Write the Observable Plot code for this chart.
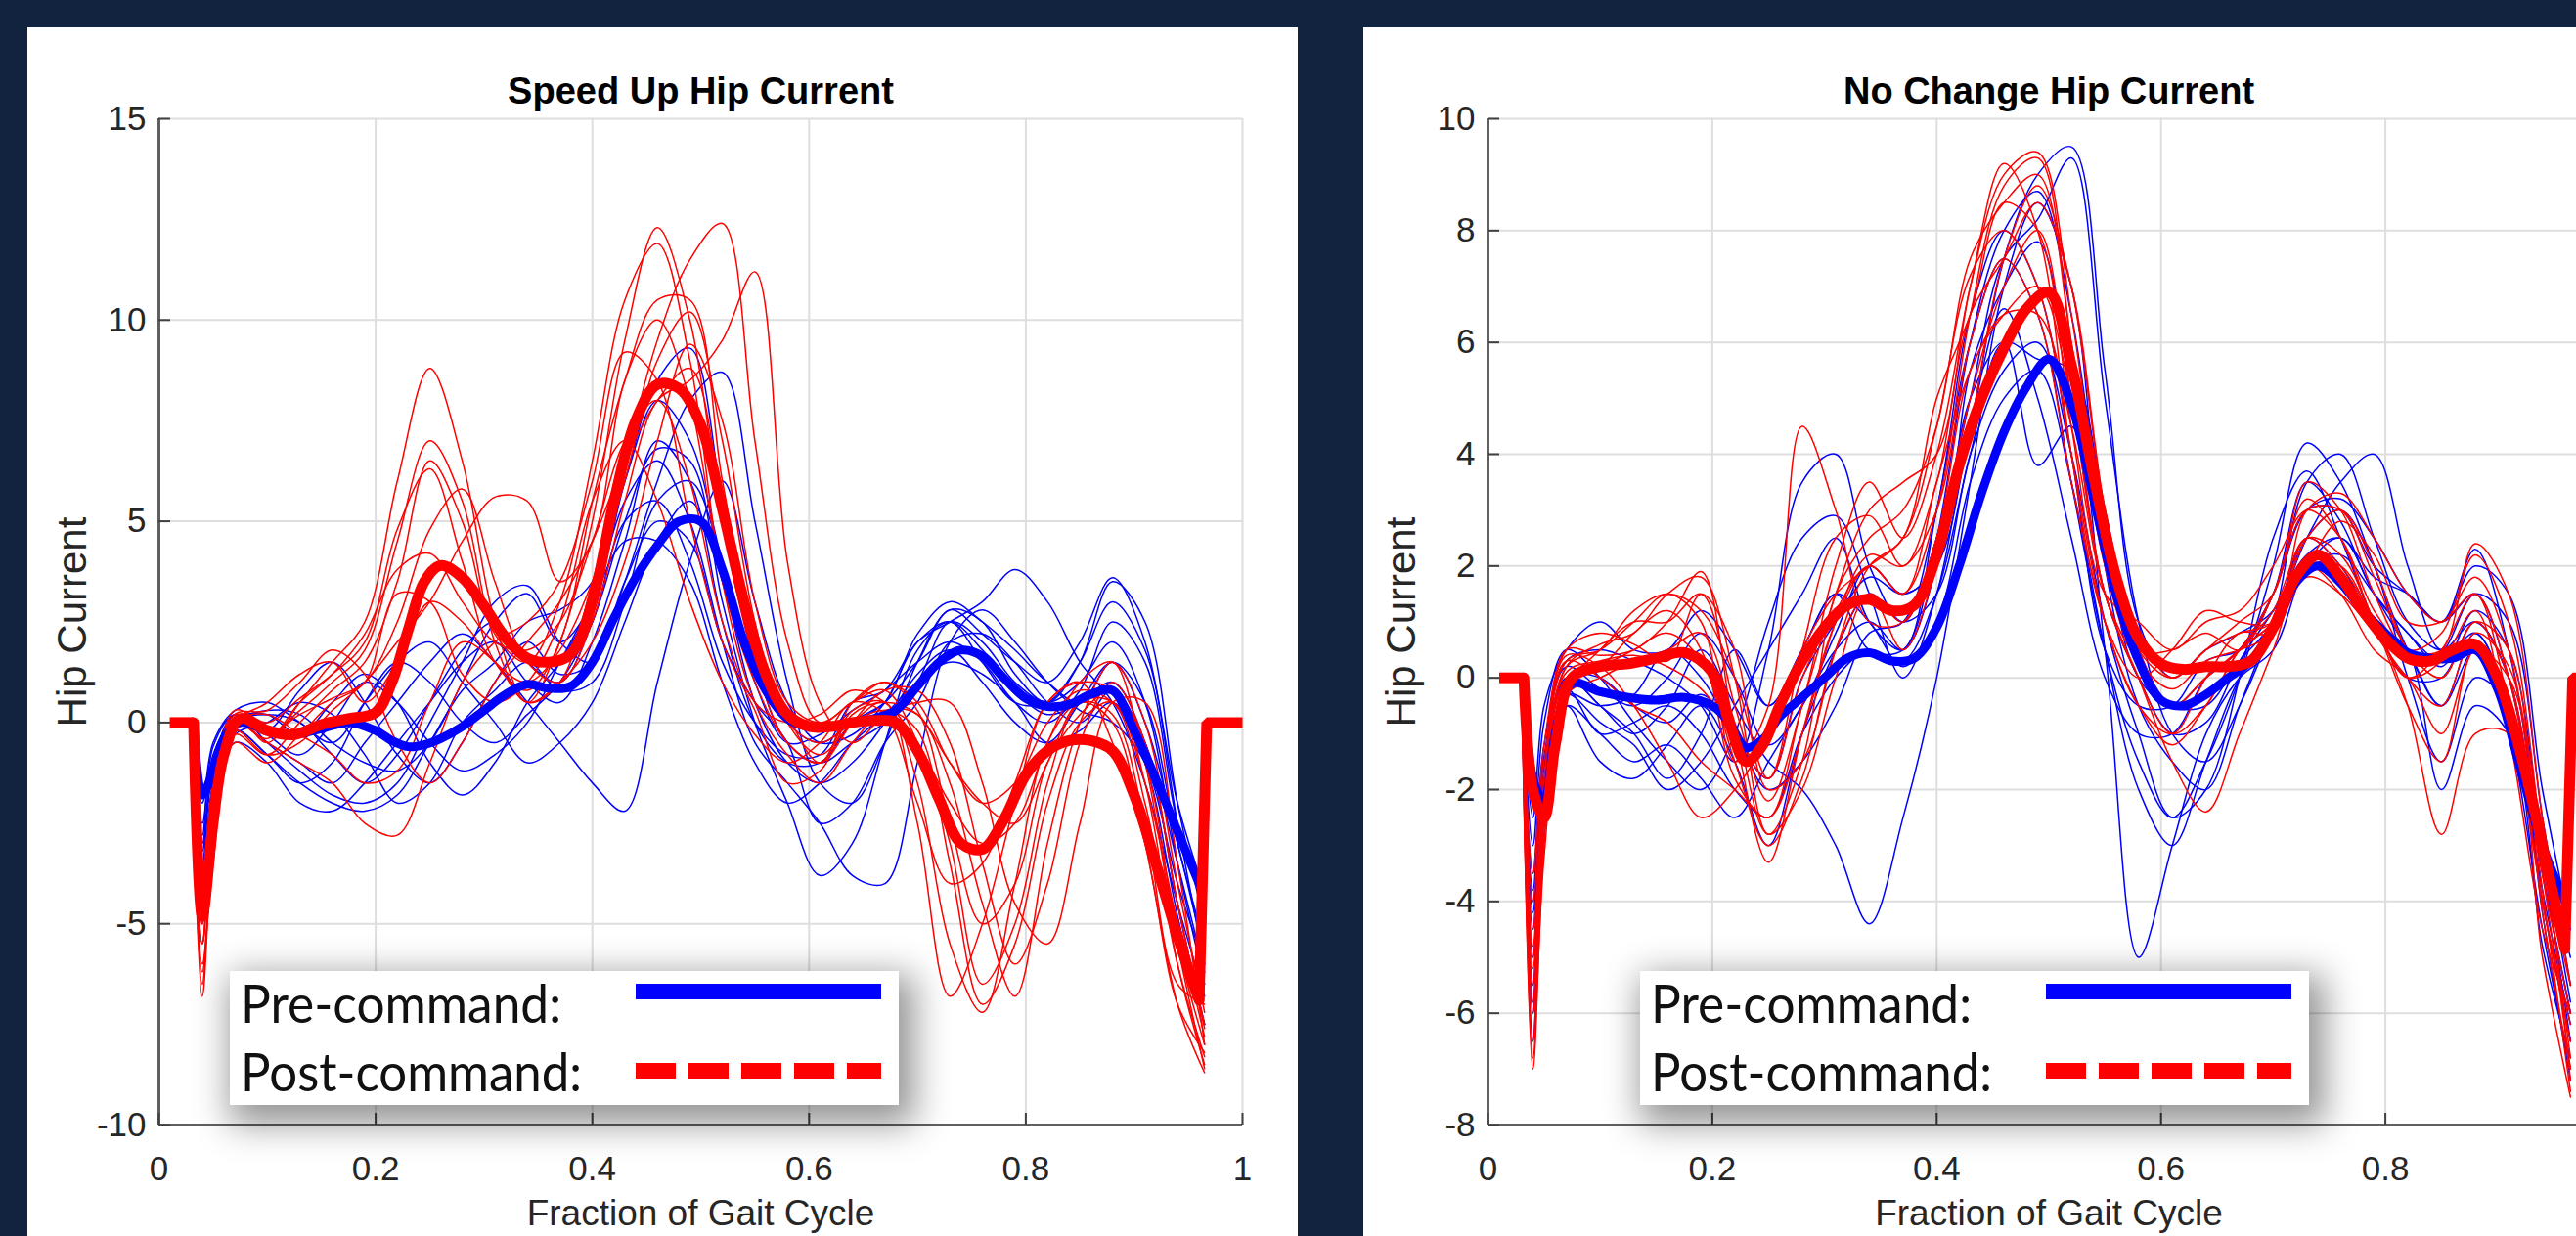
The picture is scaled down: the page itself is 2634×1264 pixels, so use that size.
<!DOCTYPE html>
<html>
<head>
<meta charset="utf-8">
<script src="https://cdn.jsdelivr.net/npm/d3@7"></script>
<script src="https://cdn.jsdelivr.net/npm/@observablehq/plot@0.6"></script>
<style>
  html, body { margin: 0; padding: 0; }
  body { width: 2634px; height: 1264px; overflow: hidden; background: #11233f; position: relative; }
  .panel { position: absolute; top: 28px; height: 1236px; background: #fff; overflow: hidden; }
  #left { left: 28px; width: 1299px; }
  #right { left: 1394px; width: 1331px; }
  .panel svg.plot { position: absolute; left: 0; top: 0; max-width: none !important; }
  .legend { position: absolute; top: 965px; width: 684px; height: 137px; background: #fff;
            box-shadow: 8px 12px 34px 8px rgba(0,0,0,0.42); }
  .legend svg { display: block; }
</style>
</head>
<body>
<div class="panel" id="left"></div>
<div class="panel" id="right"></div>
<script>
// ---------- axis ticks ----------
const xTicks = [0, 0.2, 0.4, 0.6, 0.8, 1];
const xTickLabelsLeft = [0, 0.2, 0.4, 0.6, 0.8, 1];
const xTickLabelsRight = [0, 0.2, 0.4, 0.6, 0.8];   // the label "1" lies beyond the picture's right edge
const yTicksLeft = [-10, -5, 0, 5, 10, 15];
const yTicksRight = [-8, -6, -4, -2, 0, 2, 4, 6, 8, 10];

// ---------- titles / labels ----------
const titleLeft = "Speed Up Hip Current";
const titleRight = "No Change Hip Current";
const xLabel = "Fraction of Gait Cycle";
const yLabel = "Hip Current";
const legendLabels = ["Pre-command:", "Post-command:"];

// ---------- x positions of the individual strides ----------
const xTrace = [0.03,0.04,0.05,0.07, 0.1,0.13,0.16,0.19, 0.22,0.25,0.28,0.31, 0.34,0.37,0.4,0.43,
                0.46,0.49,0.52,0.55, 0.58,0.61,0.64,0.67, 0.7,0.73,0.76,0.79, 0.82,0.85,0.88,0.91, 0.94,0.965];

// ---------- Speed Up: post-command strides (red) ----------
const leftPost = [
  [0,-6.8,-3,0.2, -0.5,0.5,1.5,2.5, 6,8.8,6.5,2.5, 0.5,2,5,9.5, 12.3,10,5,1.5, -0.5,-1,0.3,0.5, -1.5,-5.5,-7.2,-4, -0.5,0.5,0,-3, -7,-8.7],
  [0,-5.5,-2.5,0, -0.3,0.3,1,1.8, 4.5,7,5.5,2, 0.5,1,3.5,6.5, 9.5,11.5,12.4,7, 2,0,0.5,0.8, -0.5,-3,-6.5,-5, -1.5,0.5,0.5,-2, -6,-8.3],
  [0,-6,-3.5,-0.3, -0.8,0,0.8,1.5, 3.5,6.5,5,2.2, 1.5,3,6.5,10.5, 11.9,9,3.5,0.5, -0.8,-1.5,-0.5,0.3, 0.2,-1.5,-4.5,-6.8, -3,0,1.5,-1, -5.5,-8],
  [0,-5,-2,0.3, 0,0.6,1.2,2, 4.8,6.3,4,1.5, 0.8,2,5.5,8.5, 10.5,10.5,6,2, 0.2,-1,0,0.8, 0.8,-0.5,-3.5,-6, -4,-0.5,1,-0.5, -4.5,-7.5],
  [0,-4.5,-2,0.1, -0.3,0.2,0.6,1, 2.5,4.8,5.8,3.5, 1.5,1,2.5,5.5, 8,8.5,9.5,11.2, 4,0.5,-0.5,0.2, 0.5,0.5,-1.5,-4.5, -5.5,-2.5,0.5,0.5, -3.5,-8],
  [0,-6.5,-3,-0.2, -0.8,-0.5,0.3,1, 2,3,4.5,5.6, 5.5,3.5,4.5,8.5, 10,8,3.5,1, -0.5,-1,0.5,1, 0.3,-2.5,-5,-4, -1,0.2,0.8,-1.5, -6,-8.5],
  [0,-5.5,-2.5,0, -0.5,-1,-1.5,-2.5, -2.8,-1,1,2, 2.5,3.5,6,9.2, 8.5,5,2,0.3, -1.5,-1.2,0.2,0.5, 0.2,-1,-2,-2.5, -1,0.5,0.2,-2.5, -6.5,-7],
  [0,-4,-1.5,0.2, 0.3,1,1.8,1.2, -0.5,-1.5,-0.5,1, 2,3,4.5,6.5, 8,8.8,5.5,1.5, 0,-0.5,0,0.3, -0.2,-3.5,-7,-5.5, -2,0,0.5,-1.5, -5,-7.8],
  [0,-5.5,-2.2,0, -0.4,0.5,1.2,2.2, 3.8,4.2,3,2, 1.8,2.5,4.5,7, 8,6,2.5,0.5, 0,0.2,0.8,0.5, -0.5,-2,-3,-2.5, -0.5,1,1.5,0, -4,-7.2],
  [0,-6.2,-3.2,-0.5, -1,-0.3,0.5,1, 3.2,3,1.2,0.5, 1,2.5,5.5,7, 5.5,3,1,-0.3, -1,-0.5,0.5,0.2, -2,-4,-3.5,-1.5, 0.5,1,-0.5,-3, -7,-8.2],
  [0,-5,-2.5,0, 0.2,-0.3,-0.8,-1.5, -1.2,0.5,2,1.5, 0.5,1,2,4, 7,9.4,7.5,3, 0.5,0,0.5,1, 0.5,-1,-2,-1.5, 0,0.8,0.5,-1, -5.5,-8.6],
  [0,-4.8,-2,0, 0.5,1.2,1.5,0.5, 1.5,3,2.5,1.5, 1,1.8,3.5,6, 9,10.2,7,2.5, 0,-0.8,0,0.5, -2.5,-6.8,-5,-2, 0.5,1,0.8,-0.5, -4.5,-7.6]
];

// ---------- Speed Up: pre-command strides (blue) ----------
const leftPre = [
  [0,-4.5,-1.5,0, 0.3,0.2,-0.5,-1, -1.2,-0.5,1,2.5, 3.2,2,3,6, 8.5,9.3,5.5,1.5, -0.5,-1,-0.5,0, 1,2.5,2,1, 0.5,1,2,0.5, -3.5,-6.5],
  [0,-3,-1,0.2, -0.5,-1.2,-1.8,-2, -1.5,0,1.5,3, 3.4,2,1.5,3.5, 6,8,8.7,5, 1,-1.5,-2,-0.5, 1.5,2.8,2.5,1.2, 0.5,1.5,3.5,2.5, -2,-5],
  [0,-5,-2,-0.2, -0.8,-1.5,-1,0.5, 1.5,1,0,-0.5, 0.2,1,2.5,5, 6.8,6.5,3,0, -2,-3.8,-3,-0.5, 1.8,2.5,1.8,0.8, 0.2,0.5,1,-0.5, -4.5,-7.5],
  [0,-2.5,-0.8,0.1, 0.2,-0.3,0.5,1.2, 0.5,-1,-1.8,-1, 0.5,1.5,3,5.5, 6.5,5,2,-0.5, -1.5,-2.5,-3.8,-4, -1,2,2.8,2, 1,0.3,0,-1, -4,-6],
  [0,-3.5,-1.2,0, -0.5,-1,-1.5,-0.5, 0.5,1.5,2.2,1.5, 0.5,-0.5,-1.5,-2.2, 1,4,6,3, 0.5,-0.5,-0.3,0.5, 2,2.5,3,3.8, 3,1.5,0.5,-1.5, -4.5,-6.8],
  [0,-4,-1.8,-0.3, 0,0.5,0.2,-0.8, -2,-1.5,0,0.8, 1.5,0.8,1,3, 5.5,6,4,1, -0.5,-0.3,0.3,0.8, 1.5,2,1.5,0.5, 0,0.8,2.5,1.5, -2.5,-4.5],
  [0,-2,-0.5,0.3, 0.5,0,-0.5,0.5, 1.5,2,1,0, -1,-0.5,0.5,2.5, 4.5,5.5,3.5,0.5, -1,-1.5,-1,0, 1.2,1.8,1,0, -0.5,0.5,1.5,0.5, -3,-5.5],
  [0,-4.8,-2.2,-0.5, -1,-2,-2.2,-1.5, -0.5,0.5,1.5,2, 1,0.5,2,4.5, 7,6,2.5,0, -1,-1,0,0.5, 1.5,2.8,2.2,1.5, 1,2,3.6,2, -2.5,-6],
  [0,-3.2,-1,0.1, -0.2,0.8,1.5,0.5, -0.8,-1.5,-0.5,1, 2,1.2,1.5,3.5, 5,4.5,2,0.5, -0.5,-2.5,-2,-0.5, 0.5,2,2.2,1.5, 0.5,0,0.8,-0.5, -3.5,-6.2],
  [0,-3.8,-1.5,0, 0.2,0,-0.8,-1.5, -0.8,0.5,1.8,2.5, 1.5,1,2.5,5, 5.5,4,1.5,0, -0.8,-0.8,0.5,0.8, 2,2.5,1.5,0.5, 0.5,1.5,3,1.8, -2,-4.2],
  [0,-2.8,-0.6,0.2, -0.3,-0.8,0,1, 0.5,-0.5,-1.2,-0.8, 0,1.5,3,4.5, 4.5,3.5,1,-1, -2,-1.5,-0.5,0.2, 1,1.5,1.2,0.5, -0.5,-0.2,0.5,-1, -4.8,-7.5],
  [0,-4.2,-1.6,-0.2, -0.8,-1.5,-2,-2.2, -1.8,-0.5,0.8,1.5, 2.5,2.8,3.5,6, 8,7,4,1.5, 0,-0.5,0,0.5, 2.2,3,2.5,1.8, 1,0.5,1.5,0, -3,-5.8]
];

// ---------- No Change: post-command strides (red) ----------
const rightPost = [
  [0,-7,-3,0.5, 0.4,0.5,1,1.9, -1,-3.3,-1,1, 2,1.5,3,6.5, 8.8,9.3,6,2, 0.5,0.5,0.8,0.5, 1.5,3.2,2.5,1, 0,0.5,1.5,-0.5, -4,-6.5],
  [0,-5,-2,0.3, 0.5,1,1.5,1, -1.5,-0.5,4.5,3, 1,1,2.5,5, 7,8,5,1.5, 0,-1,-0.5,0.5, 1,2.5,3,2, 0.5,0,1,0, -3.5,-6],
  [0,-6,-2.5,0, 0.2,0.8,1.2,0.5, -1.8,-2.5,-0.5,1.5, 3,3.5,4,7, 9,9.4,6.5,2.5, 0.5,0,0.5,1, 1.5,3.5,3,1.5, 0.5,0.8,2.2,1, -3,-6.8],
  [0,-4.5,-1.8,0.4, 0.2,-0.5,-1.5,-2.5, -2,-1,0.5,1.5, 2,2.5,4.5,7.2, 8,7,4,1, -0.5,-1.2,-0.5,0.5, 1.2,2.5,2,1, -0.5,-2.8,-1,-1, -5,-7.5],
  [0,-5.5,-2.2,0.2, 0.5,1.2,1.5,1.2, 0,-1.8,0.5,2.5, 2.9,2,3.5,6.5, 7.5,8.5,7,3, 0.5,-0.5,0,0.5, 1,2,2.8,2.2, 1,1,1.5,0, -3.5,-7],
  [0,-6.5,-2.8,-0.3, 0,0.3,0.5,0.8, -0.8,-2.8,-2,0, 1.5,1,2.5,5.5, 6.5,7,5,1.5, 0,-1.5,-2.4,-1, 0.5,2,1.5,0.5, 0,-1,0.5,-0.5, -4,-6.2],
  [0,-3.5,-1.2,0.5, 0.8,0.6,0.3,1.5, 0.5,-2,-1.5,0.5, 2,2.5,5,6.5, 8.5,8,4.5,1.5, 1,0.5,1,1.2, 2,3,2.5,1.2, 0.5,0.5,2.4,1.5, -2.5,-5.5],
  [0,-5.8,-2.5,0, 0.2,0.5,0.8,0.3, -1.5,-3,-1.8,0.5, 1.5,0.5,2,4.5, 7.5,8.8,7,3, 0.8,0,0.5,0.8, 1,2.5,2.2,1, -0.5,-1.5,0.5,0, -3,-7.2],
  [0,-4,-1.5,0.3, 0,-0.5,-0.8,-1.5, -2,-2.5,-1,1, 2.2,2,3,6, 7.5,6.5,3.5,1, -0.5,-1,0,0.8, 0.8,2,2,1, 0,0.3,1.2,-1, -4.5,-6],
  [0,-6.8,-3.2,-0.2, 0.5,1,1,1.5, -0.5,-2.2,-0.5,2, 3.5,2.5,4,7, 9.2,8,4,1, 0,0.5,1.2,1, 1,3,3.3,2.5, 1.5,1,1.8,0.5, -3.8,-7.4],
  [0,-4.8,-2,0.1, 0.3,0.4,0.2,-0.2, -1,-1.8,0,1.2, 2,1.5,3.5,5.5, 6.5,6.5,4.5,1.5, 0.3,-0.2,0.3,0.5, 0.8,1.8,1.5,0.8, 0,-0.5,0.8,0.2, -3.2,-5.5],
  [0,-5.2,-2.2,0.2, 0.6,0.8,1.5,1.8, 0,-2.8,-1.5,1.5, 2.5,3,4.5,7.5, 8.5,9,6,2, 0.2,-0.5,0,0.5, 1.5,3,3,1.8, 0.5,0,1,0.5, -4.2,-7]
];

// ---------- No Change: pre-command strides (blue) ----------
const rightPre = [
  [0,-4,-1.5,0.3, 0.5,0.3,0,-0.5, -1.5,0.5,3.5,4, 2,1,2.5,5, 7.5,8.2,9.3,5, 1,-1,-1.5,-0.5, 1,3.5,4,2.5, 1,0.5,1,0, -3.5,-6],
  [0,-6,-2.5,-0.5, -1,-1.5,-1.2,-1.8, -2.5,-1.5,-0.5,0.5, 1,0.5,3,6, 7.5,6.5,3.5,0.5, -1.5,-2.5,-1.5,0, 2,4.2,3.5,2, 0.5,-0.5,0.5,-1, -4.5,-7],
  [0,-3,-0.8,0.5, 0,-0.8,-1.5,-2, -1,1,2.5,2.9, 1.5,0,1.5,4.5, 6.6,5,2.5,0, -1,-1,0,0.5, 1.5,3,3.2,2.5, 1.5,1,1.5,0, -3,-5],
  [0,-5,-2,0, -0.5,-1,-0.5,0.5, -0.5,-1.5,-2,-3, -4.4,-2.5,0,3.5, 7,8.5,7,2, -0.5,-1.5,-2,-0.5, 1,2.5,3,2, 0,-1.5,0,-0.5, -4,-6.5],
  [0,-4.5,-1.8,-0.3, -0.8,-1.2,-2,-1.5, -0.5,0.5,1.5,2.5, 1,0.5,2,5, 6,3.8,4.5,0.5, -5,-3,-1,0, 0.5,2,2.5,1.5, 0.5,-0.5,0.8,-0.5, -3.8,-6.2],
  [0,-2.5,-0.5,0.5, 1,0.5,0.5,1.2, 0.5,-0.5,0.5,1.5, 0.5,0.5,2.5,6, 8,8.7,6.5,2.5, 0,-0.5,0,0.5, 1.5,3,3,2, 1.5,1,2,1.5, -2,-4.5],
  [0,-5.5,-2.2,-0.5, -1.5,-1.8,-1.2,-0.5, -1.5,-3,-1,0.5, 1.5,1,1.5,4, 5.5,6,4,1, -1,-2.5,-2,0, 2.5,3.7,2.5,1, 0,0,1,0, -4.2,-7.2],
  [0,-3.5,-1.2,0.2, -0.2,-0.5,0,0.8, 0,-1.2,-0.5,0.8, 2,1.5,2,4.5, 7.5,9,9.5,5.5, 1,0,0.5,0.8, 1.2,2.5,3.5,4, 2,0.5,1.5,1, -2.5,-5.5],
  [0,-6.5,-2.8,-0.2, -1,-0.8,-0.5,-1, -2,-2.5,-1,0, 0.5,0.3,1.5,4, 6,5.7,5.5,3, 0.5,-0.5,-0.5,0.3, 1,2.5,2,1, 0.5,-2,-0.5,-1, -4.8,-6.8],
  [0,-4.2,-1.6,0, -0.5,-1,-1.8,-1, 0.5,-0.5,0.5,1.5, 1,0.2,1,3.5, 5,5.5,3.5,0.5, -2,-3,-1.5,0, 0.8,2,2.2,1.5, 0.8,0.3,0.8,-0.5, -3.5,-6],
  [0,-3.8,-1.4,0, 0,-0.5,-0.8,-0.3, -1,-2,-1.5,-0.5, 0.8,1,3,6.5, 8,7,4,0.5, -0.5,-0.5,0.3,0.5, 1.5,3.5,2.8,1.5, 0.8,0.2,1.2,0.5, -3,-5.8],
  [0,-5.8,-2.4,-0.3, -0.5,-0.3,0.5,0, -1,-1.8,0,1, 1.8,1.5,2,5.5, 7,7.8,5,1.5, 0,-1,-0.8,0.3, 1.2,2.2,2.5,1.8, 1.5,1,2.3,0.5, -3.2,-6.5]
];

// ---------- mean curves ----------
const xMean = [0.032,0.04,0.05,0.06,0.075,0.1,0.125,0.15,0.175,
               0.2,0.215,0.23,0.245,0.26,0.28,0.3,0.32,0.34,0.36,
               0.38,0.4,0.42,0.44,0.46,0.48,0.5,0.52,0.54,0.56,
               0.58,0.6,0.62,0.64,0.66,0.68,0.7,0.72,0.74,0.76,
               0.78,0.8,0.82,0.84,0.86,0.88,0.9,0.92,0.94,0.96];
const xHead = [0.01, 0.032];      // flat start of the post-command mean
const headValues = [0, 0];
const xTail = [0.967, 1.0];       // jump back to zero at the end of the post-command mean
const tailValues = [0, 0];

const leftPostMean = [0,-4.8,-2.5,-0.8,0.1,-0.2,-0.3,-0.05,0.1,
                      0.25,1.0,2.3,3.5,3.9,3.6,2.9,2.1,1.6,1.5,
                      1.7,3.0,5.5,7.5,8.4,8.3,7.4,5.3,3.0,1.2,
                      0.2,-0.1,-0.1,0.0,0.05,0.0,-0.7,-1.9,-3.0,-3.15,
                      -2.4,-1.3,-0.7,-0.45,-0.45,-0.7,-1.8,-3.5,-5.3,-6.9];
const leftPreMean = [0,-1.8,-1.2,-0.4,0.0,-0.2,-0.3,-0.15,0.0,
                     -0.2,-0.45,-0.6,-0.55,-0.4,-0.1,0.3,0.7,0.95,0.85,
                     0.9,1.5,2.6,3.6,4.4,5.0,5.0,3.8,2.0,0.8,
                     0.1,-0.1,-0.1,0.0,0.1,0.3,0.9,1.5,1.8,1.65,
                     1.1,0.6,0.4,0.45,0.7,0.8,-0.2,-1.4,-2.7,-4.0];
const rightPostMean = [0,-2.0,-2.5,-1.2,0.0,0.2,0.25,0.35,0.45,
                       0.1,-0.8,-1.5,-1.2,-0.5,0.3,0.9,1.3,1.4,1.2,
                       1.3,2.2,3.8,5.0,5.9,6.6,6.9,5.6,3.6,1.8,
                       0.7,0.25,0.15,0.2,0.2,0.3,0.9,1.8,2.2,1.8,
                       1.2,0.7,0.35,0.3,0.5,0.6,0.0,-1.3,-3.0,-4.85];
const rightPreMean = [0,-1.8,-2.2,-1.0,-0.1,-0.25,-0.35,-0.4,-0.35,
                      -0.5,-0.8,-1.25,-1.1,-0.7,-0.35,0.0,0.35,0.45,0.3,
                      0.35,0.9,2.0,3.3,4.4,5.2,5.7,4.9,3.2,1.5,
                      0.3,-0.4,-0.5,-0.3,0.0,0.3,0.9,1.7,2.0,1.7,
                      1.2,0.8,0.45,0.35,0.35,0.5,-0.2,-1.6,-3.0,-4.0];

// ---------- colours ----------
const preColor = "#0000ff";
const postColor = "#ff0000";

function toRows(xs, series, key) {
  const out = [];
  series.forEach((ys, i) => ys.forEach((y, j) => {
    if (j < xs.length) out.push({x: xs[j], y, k: key + i});
  }));
  return out;
}

function buildPanel({host, width, marginLeft, yDomain, yTicks, xLabels, title, pre, post, preMean, postMean, legendLeft}) {
  const marginRight = 57, marginTop = 93, marginBottom = 114, height = 1236;
  const innerW = width - marginLeft - marginRight;
  const innerH = height - marginTop - marginBottom;
  const curve = "catmull-rom";
  const lastX = xMean[xMean.length - 1];
  const lastY = postMean[postMean.length - 1];
  const svg = Plot.plot({
    width, height, marginLeft, marginRight, marginTop, marginBottom,
    x: {domain: [0, 1]},
    y: {domain: yDomain},
    style: {background: "#ffffff", color: "#262626", fontFamily: "'Liberation Sans', Arial, Helvetica, sans-serif",
            fontSize: "35px", overflow: "visible", maxWidth: "none", width: width + "px", height: height + "px"},
    marks: [
      Plot.ruleY(yTicks, {stroke: "#dedede", strokeWidth: 2}),
      Plot.ruleX(xTicks, {stroke: "#dedede", strokeWidth: 2}),
      Plot.line(toRows(xTrace, pre, "pre"), {x: "x", y: "y", z: "k", stroke: preColor, strokeWidth: 1.5, curve}),
      Plot.line(toRows(xTrace, post, "post"), {x: "x", y: "y", z: "k", stroke: postColor, strokeWidth: 1.5, curve}),
      Plot.line(toRows(xMean, [preMean], "pm"), {x: "x", y: "y", z: "k", stroke: preColor, strokeWidth: 9, curve}),
      Plot.line(toRows(xMean, [postMean], "qm"), {x: "x", y: "y", z: "k", stroke: postColor, strokeWidth: 11, curve}),
      Plot.line(toRows(xHead, [headValues], "qh"), {x: "x", y: "y", z: "k", stroke: postColor, strokeWidth: 11, strokeLinecap: "butt"}),
      Plot.line(toRows([lastX, ...xTail], [[lastY, ...tailValues]], "qt"), {x: "x", y: "y", z: "k", stroke: postColor, strokeWidth: 11, strokeLinejoin: "miter", strokeLinecap: "butt"}),
      Plot.ruleX([0], {stroke: "#606060", strokeWidth: 3}),
      Plot.ruleY([yDomain[0]], {stroke: "#606060", strokeWidth: 3}),
      Plot.tickY(yTicks, {y: d => d, insetRight: innerW - 12, stroke: "#404040", strokeWidth: 2}),
      Plot.tickX(xTicks, {x: d => d, insetTop: innerH - 12, stroke: "#404040", strokeWidth: 2}),
      Plot.axisY(yTicks, {tickSize: 0, tickPadding: 13, tickFormat: d => String(d), label: null, fontSize: 35}),
      Plot.axisX(xLabels, {tickSize: 0, tickPadding: 32, tickFormat: d => String(d), label: null, fontSize: 35}),
      Plot.text([title], {text: d => d, frameAnchor: "top", lineAnchor: "bottom", dy: -16, fontSize: 38, fontWeight: "bold", fill: "#000"}),
      Plot.text([xLabel], {text: d => d, frameAnchor: "bottom", textAnchor: "middle", lineAnchor: "bottom", dy: 102, fontSize: 37, fill: "#262626"}),
      Plot.text([yLabel], {text: d => d, frameAnchor: "left", textAnchor: "middle", rotate: -90, dx: -88, fontSize: 42, fill: "#262626"})
    ]
  });
  host.appendChild(svg);

  // legend box
  const lg = document.createElement("div");
  lg.className = "legend";
  lg.style.left = legendLeft + "px";
  const ns = "http://www.w3.org/2000/svg";
  const s = document.createElementNS(ns, "svg");
  s.setAttribute("width", 684); s.setAttribute("height", 137);
  const mk = (tag, attrs, txt) => {
    const e = document.createElementNS(ns, tag);
    for (const k in attrs) e.setAttribute(k, attrs[k]);
    if (txt) e.textContent = txt;
    s.appendChild(e);
  };
  mk("text", {x: 11, y: 53, "font-family": "Lato, 'Open Sans', sans-serif", "font-size": 54, fill: "#111",
              textLength: 328, lengthAdjust: "spacingAndGlyphs"}, legendLabels[0]);
  mk("text", {x: 11, y: 123, "font-family": "Lato, 'Open Sans', sans-serif", "font-size": 54, fill: "#111",
              textLength: 349, lengthAdjust: "spacingAndGlyphs"}, legendLabels[1]);
  mk("line", {x1: 415, x2: 666, y1: 21, y2: 21, stroke: preColor, "stroke-width": 16});
  mk("line", {x1: 415, x2: 666, y1: 102, y2: 102, stroke: postColor, "stroke-width": 16, "stroke-dasharray": "41 13"});
  lg.appendChild(s);
  host.appendChild(lg);
}

buildPanel({
  host: document.getElementById("left"), width: 1299, marginLeft: 134,
  yDomain: [-10, 15], yTicks: yTicksLeft, xLabels: xTickLabelsLeft, title: titleLeft,
  pre: leftPre, post: leftPost, preMean: leftPreMean, postMean: leftPostMean, legendLeft: 207
});
buildPanel({
  host: document.getElementById("right"), width: 1331, marginLeft: 127,
  yDomain: [-8, 10], yTicks: yTicksRight, xLabels: xTickLabelsRight, title: titleRight,
  pre: rightPre, post: rightPost, preMean: rightPreMean, postMean: rightPostMean, legendLeft: 283
});
</script>
</body>
</html>
